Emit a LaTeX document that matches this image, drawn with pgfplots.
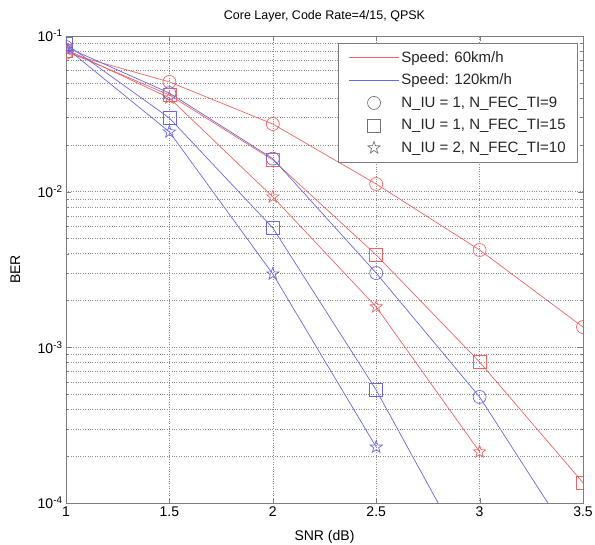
\documentclass[border=0pt]{standalone}
\usepackage{pgfplots}
\pgfplotsset{compat=1.18}
\usepackage{fontspec}
\setmainfont{Liberation Sans}

\definecolor{redline}{RGB}{238,100,100}
\definecolor{blueline}{RGB}{104,104,228}
\definecolor{axgray}{RGB}{125,125,125}

% MATLAB-like pentagram outline
\pgfdeclareplotmark{pentagram}{%
  \pgfpathmoveto{\pgfpointpolar{90}{\pgfplotmarksize}}%
  \pgfpathlineto{\pgfpointpolar{126}{0.40\pgfplotmarksize}}%
  \pgfpathlineto{\pgfpointpolar{162}{\pgfplotmarksize}}%
  \pgfpathlineto{\pgfpointpolar{198}{0.40\pgfplotmarksize}}%
  \pgfpathlineto{\pgfpointpolar{234}{\pgfplotmarksize}}%
  \pgfpathlineto{\pgfpointpolar{270}{0.40\pgfplotmarksize}}%
  \pgfpathlineto{\pgfpointpolar{306}{\pgfplotmarksize}}%
  \pgfpathlineto{\pgfpointpolar{342}{0.40\pgfplotmarksize}}%
  \pgfpathlineto{\pgfpointpolar{18}{\pgfplotmarksize}}%
  \pgfpathlineto{\pgfpointpolar{54}{0.40\pgfplotmarksize}}%
  \pgfpathclose
  \pgfusepathqstroke
}

\begin{document}
\begin{tikzpicture}[font=\fontsize{12}{14}\selectfont]
\path[use as bounding box] (-66pt,-42pt) rectangle (529pt,503pt);
\begin{axis}[
    at={(0,0)}, anchor=south west,
    scale only axis,
    width=517pt, height=467pt,
    ymode=log,
    xmin=1, xmax=3.5,
    ymin=1e-4, ymax=1e-1,
    xtick={1,1.5,2,2.5,3,3.5},
    ytick={1e-4,1e-3,1e-2,1e-1},
    yticklabels={10\textsuperscript{-4},10\textsuperscript{-3},10\textsuperscript{-2},10\textsuperscript{-1}},
    /pgf/number format/assume math mode=true,
    tick label style={font=\fontsize{14}{16}\selectfont},
    title={Core Layer, Code Rate=4/15, QPSK},
    title style={yshift=4pt, font=\fontsize{12.5}{15}\selectfont},
    xlabel={SNR (dB)},
    ylabel={BER},
    label style={font=\fontsize{14}{16}\selectfont},
    xlabel style={at={(axis description cs:0.5,-0.073)}, anchor=center},
    ylabel style={at={(axis description cs:-0.098,0.5)}, anchor=center},
    grid=both,
    major grid style={dotted, black!45},
    minor grid style={dotted, black!45},
    axis line style={axgray},
    tick style={axgray},
    major tick length=5pt,
    minor tick length=3pt,
    clip marker paths=true,
    every axis plot/.append style={line width=0.7pt, mark size=6.5pt, mark options={solid}},
    legend image code/.code={\draw[#1] (0pt,0pt) -- (50pt,0pt);},
    legend cell align=left,
    legend style={at={(0.99,0.985)}, anchor=north east, draw=axgray, fill=white,
        text=black!85,
        font=\fontsize{15}{17}\selectfont, row sep=6.5pt,
        inner xsep=10pt, inner ysep=6pt},
]

% 60 km/h
\addplot[redline, mark=o, forget plot] coordinates {
    (1,0.078) (1.5,0.0507) (2,0.0272) (2.5,0.0112) (3,0.00422) (3.5,0.00135)
};
\addplot[redline, mark=square, forget plot] coordinates {
    (1,0.080) (1.5,0.0418) (2,0.0160) (2.5,0.00392) (3,0.000805) (3.5,0.000135)
};
\addplot[redline, mark=pentagram, forget plot] coordinates {
    (1,0.082) (1.5,0.0400) (2,0.00925) (2.5,0.00182) (3,0.000213)
};

% 120 km/h
\addplot[blueline, mark=o, forget plot] coordinates {
    (1,0.085) (1.5,0.0430) (2,0.0163) (2.5,0.0030) (3,0.00048) (3.5,0.0000446)
};
\addplot[blueline, mark=square, forget plot] coordinates {
    (1,0.089) (1.5,0.0297) (2,0.00585) (2.5,0.000532) (3,0.0000326)
};
\addplot[blueline, mark=pentagram, forget plot] coordinates {
    (1,0.084) (1.5,0.0242) (2,0.00296) (2.5,0.000229)
};

\addlegendimage{redline, line width=0.7pt}
\addlegendentry{Speed: 60km/h}
\addlegendimage{blueline, line width=0.7pt}
\addlegendentry{Speed: 120km/h}
\addlegendimage{legend image code/.code={\draw[black!55, line width=0.7pt, mark=o, mark size=6.5pt] plot coordinates {(25pt,0pt)};}}
\addlegendentry{N\_IU = 1, N\_FEC\_TI=9}
\addlegendimage{legend image code/.code={\draw[black!55, line width=0.7pt, mark=square, mark size=6.5pt] plot coordinates {(25pt,0pt)};}}
\addlegendentry{N\_IU = 1, N\_FEC\_TI=15}
\addlegendimage{legend image code/.code={\draw[black!55, line width=0.7pt, mark=pentagram, mark size=6.5pt] plot coordinates {(25pt,0pt)};}}
\addlegendentry{N\_IU = 2, N\_FEC\_TI=10}
\end{axis}
\end{tikzpicture}
\end{document}
